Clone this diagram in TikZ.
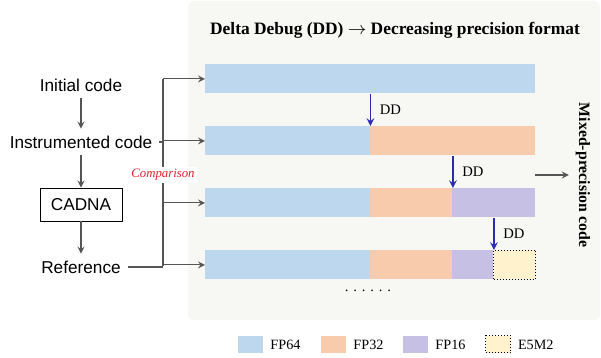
\documentclass[tikz,border=0pt]{standalone}
\usepackage{fontspec}
\setmainfont{Liberation Serif}
\setsansfont{Liberation Sans}
\usetikzlibrary{positioning}
\definecolor{fpsf}{HTML}{BDD7EE}
\definecolor{fpst}{HTML}{F8CBAD}
\definecolor{fpsh}{HTML}{C6C0E4}
\definecolor{fpeight}{HTML}{FFF2CC}
\definecolor{panelbg}{HTML}{F7F8F4}
\definecolor{linegray}{HTML}{555555}
\definecolor{ddblue}{HTML}{2A2AB2}
\definecolor{cmpred}{HTML}{E3202C}
\tikzset{
  seg/.style={anchor=north west, inner sep=0pt, minimum height=14.5pt},
  conn/.style={draw=linegray, line width=0.55pt},
  dd/.style={->, draw=ddblue, line width=0.7pt},
  lab/.style={font=\sffamily\fontsize{8.6}{10}\selectfont},
  swatch/.style={minimum width=12.5pt, minimum height=8.5pt, inner sep=0pt},
}
\begin{document}
\begin{tikzpicture}[x=0.5pt, y=-0.5pt, line join=round, >=stealth]
\useasboundingbox (0,0) rectangle (601,358);
% panel
\fill[panelbg, rounded corners=3pt] (188,1) rectangle (600,320);
\node[font=\bfseries\fontsize{8.7}{10}\selectfont] (title) at (395,30) {Delta Debug (DD) $\rightarrow$ Decreasing precision format};
% bars
\foreach \n/\x/\y/\w/\c in {r1a/205/64/165/fpsf, r2a/205/126/82.5/fpsf, r2b/370/126/82.5/fpst,
  r3a/205/188/82.5/fpsf, r3b/370/188/41/fpst, r3c/452/188/41.5/fpsh,
  r4a/205/250/82.5/fpsf, r4b/370/250/41/fpst, r4c/452/250/20.5/fpsh}
  {\node[seg, fill=\c, minimum width=\w pt] (\n) at (\x,\y) {};}
\node[seg, fill=fpeight, minimum width=21pt, draw=black, densely dotted, line width=0.5pt] (r4d) at (493,250) {};
\foreach \a/\b in {r1a/r2b, r2b/r3c, r3c/r4d}
  {\draw[dd] (\a.south) -- node[right=1pt, font=\fontsize{7.3}{9}\selectfont] {DD} (\a.south |- \b.north);}
\node[font=\fontsize{7.3}{9}\selectfont] (dots) at (368,291) {. . . . . .};
% left column
\node[lab] (init) at (81,85) {Initial code};
\node[lab] (instr) at (81,142) {Instrumented code};
\node[lab, draw=black, line width=0.45pt, minimum width=41pt, minimum height=16.5pt] (cadna) at (81,204.5) {CADNA};
\node[lab] (ref) at (81,267) {Reference};
\draw[conn,->] (init) -- (instr);
\draw[conn,->] (instr) -- (cadna);
\draw[conn,->] (cadna) -- (ref);
% comparison bus
\coordinate (bt) at (163,79);
\coordinate (bb) at (163,266);
\draw[conn] (bt) -- (bb);
\foreach \r in {r1a,r2a,r3a,r4a}
  {\draw[conn,->] (\r.west -| bt) -- (\r.west);}
\draw[conn] (instr) -- (instr -| bt);
\draw[conn] (ref) -- (ref -| bt);
\node[fill=white, inner sep=1pt, text=cmpred, font=\itshape\fontsize{6.4}{8}\selectfont] (cmp) at (163,175) {Comparison};
% output
\node[rotate=-90, font=\bfseries\fontsize{7.9}{9}\selectfont] (mix) at (583,175) {Mixed-precision code};
\coordinate (mixin) at (535,175);
\draw[conn,->] (mixin) -- (mix.south);
% legend
\foreach \n/\c/\x in {FP64/fpsf/250.5, FP32/fpst/333.5, FP16/fpsh/415.5}
  {\node[swatch, fill=\c] (sw\n) at (\x,344.5) {};
   \node[right=0pt of sw\n, font=\fontsize{7.1}{9}\selectfont] (lg\n) {\n};}
\node[swatch, fill=fpeight, draw=black, densely dotted, line width=0.5pt] (swE) at (498,344.5) {};
\node[right=0pt of swE, font=\fontsize{7.1}{9}\selectfont] (lgE) {E5M2};
\end{tikzpicture}
\end{document}
